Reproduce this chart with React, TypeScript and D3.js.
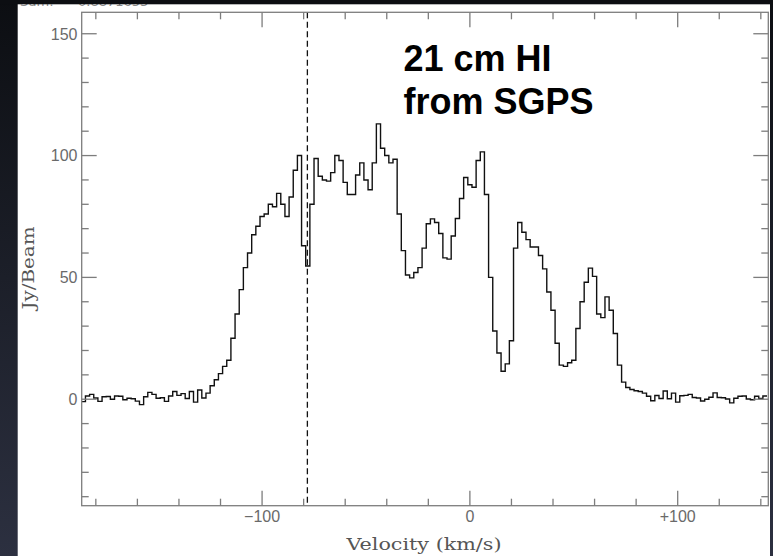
import React, { useEffect, useRef } from 'react';
import * as d3 from 'd3';

// HI spectrum, 2 km/s channels, first channel centred at -186 km/s
const V_START = -186;
const V_STEP = 2;
const fluxJy = [
  -1.0, 1.3, 2.0, 0.5, -0.9, 1.0, 1.1, 0.0, 1.3, 1.2,
  -0.2, 0.4, 0.2, -0.8, -2.2, 1.0, 2.8, 2.0, 0.4, 0.6,
  -0.9, 1.3, 3.2, 1.6, 2.3, 0.3, 3.2, -1.2, 3.8, 0.5,
  2.5, 5.5, 8.0, 10.5, 13.5, 16.0, 25.0, 35.0, 45.0, 54.0,
  60.0, 67.5, 71.0, 75.0, 76.0, 80.0, 79.0, 84.5, 80.0, 75.0,
  83.0, 94.0, 100.0, 63.0, 54.7, 80.0, 98.8, 91.5, 90.0, 89.5,
  93.0, 100.0, 98.0, 89.0, 84.0, 84.0, 92.0, 97.0, 90.0, 86.0,
  97.0, 113.0, 103.0, 100.0, 97.0, 98.5, 76.0, 61.0, 51.0, 49.8,
  52.0, 54.0, 62.0, 72.0, 74.0, 72.5, 68.0, 58.0, 57.5, 67.0,
  74.2, 82.4, 91.0, 88.0, 87.0, 98.0, 101.5, 84.0, 50.0, 28.0,
  19.0, 11.5, 14.5, 24.0, 62.0, 72.5, 68.5, 65.5, 62.5, 62.5,
  59.0, 53.5, 44.0, 36.5, 23.0, 14.0, 13.5, 15.0, 16.0, 29.0,
  40.0, 48.0, 53.8, 50.4, 35.0, 33.5, 42.0, 36.5, 27.0, 14.0,
  7.0, 4.8, 4.0, 3.5, 3.2, 2.5, 1.2, -0.6, 1.5, 0.3,
  3.4, 0.2, 2.5, -1.2, 1.4, 1.6, 2.0, 0.7, 0.5, -0.7,
  0.0, 0.8, 2.6, 0.7, 0.6, 0.1, -1.5, 0.4, 1.2, 1.3,
  0.1, -0.2, 1.2, 0.3, 1.3,
];

const xMajorTicks = [-100, 0, 100];
const xTickLabels = ['\u2212100', '0', '+100'];
const xMinorTicks = [-180, -160, -140, -120, -80, -60, -40, -20, 20, 40, 60, 80, 120, 140];
const yMajorTicks = [0, 50, 100, 150];
const yTickLabels = ['0', '50', '100', '150'];
const yMinorTicks = [-40, -30, -20, -10, 10, 20, 30, 40, 60, 70, 80, 90, 110, 120, 130, 140];
const markerVelocity = -78.2;
const titleLines = ['21 cm HI', 'from SGPS'];

const W = 773;
const H = 556;

export default function App() {
  const ref = useRef<SVGSVGElement>(null);

  useEffect(() => {
    const svg = d3.select(ref.current);
    svg.selectAll('*').remove();

    const left = 81.7, right = 768.3, top = 12.3, bottom = 505.7;
    const x = d3.scaleLinear().domain([-186.8, 143.6]).range([left, right]);
    const y = d3.scaleLinear().domain([-43.7, 158.8]).range([bottom, top]);

    // dark slide background + white panel
    const grad = svg.append('defs').append('linearGradient')
      .attr('id', 'bg').attr('x1', 0).attr('y1', 0).attr('x2', 0).attr('y2', 1);
    grad.append('stop').attr('offset', '0%').attr('stop-color', '#0c0e12');
    grad.append('stop').attr('offset', '100%').attr('stop-color', '#2c3040');
    svg.append('rect').attr('width', W).attr('height', H).attr('fill', 'url(#bg)');
    svg.append('rect').attr('x', 17.7).attr('y', 0).attr('width', 752.3).attr('height', H).attr('fill', '#fff');

    // header text, mostly cut off at the top (as in the source slide)
    const head = svg.append('g').attr('fill', '#888').style('font-family', 'DejaVu Sans').style('font-size', '13px');
    head.append('text').attr('x', 20).attr('y', 6).text('Sum:');
    head.append('text').attr('x', 78).attr('y', 6).text('0.8871653');
    svg.append('rect').attr('width', W).attr('height', 4.3).attr('fill', '#0c0e12');

    svg.append('clipPath').attr('id', 'plotclip')
      .append('rect').attr('x', left).attr('y', top).attr('width', right - left).attr('height', bottom - top);

    // spectrum as histogram steps
    const edges = fluxJy.map((f, i) => ({ v: V_START + i * V_STEP - V_STEP / 2, f }));
    edges.push({ v: V_START + (fluxJy.length - 1) * V_STEP + V_STEP / 2, f: fluxJy[fluxJy.length - 1] });
    const line = d3.line<{ v: number; f: number }>()
      .x(d => x(d.v))
      .y(d => y(d.f))
      .curve(d3.curveStepAfter);
    svg.append('path')
      .datum(edges)
      .attr('clip-path', 'url(#plotclip)')
      .attr('fill', 'none')
      .attr('stroke', '#111')
      .attr('stroke-width', 1.4)
      .attr('d', line);

    // dashed marker
    svg.append('line')
      .attr('x1', x(markerVelocity)).attr('x2', x(markerVelocity))
      .attr('y1', top).attr('y2', bottom)
      .attr('stroke', '#111').attr('stroke-width', 1.3)
      .attr('stroke-dasharray', '6 3.5');

    // frame and ticks on all four sides
    const axisCol = '#7d7d7d';
    const ax = svg.append('g').attr('stroke', axisCol).attr('stroke-width', 1.3);
    ax.append('rect').attr('x', left).attr('y', top).attr('width', right - left).attr('height', bottom - top).attr('fill', 'none');
    const xt = [...xMinorTicks.map(v => ({ v, len: 7 })), ...xMajorTicks.map(v => ({ v, len: 15 }))];
    const yt = [...yMinorTicks.map(v => ({ v, len: 7 })), ...yMajorTicks.map(v => ({ v, len: 15 }))];
    ax.selectAll('.xb').data(xt).enter().append('line')
      .attr('x1', d => x(d.v)).attr('x2', d => x(d.v)).attr('y1', bottom).attr('y2', d => bottom - d.len);
    ax.selectAll('.xt').data(xt).enter().append('line')
      .attr('x1', d => x(d.v)).attr('x2', d => x(d.v)).attr('y1', top).attr('y2', d => top + d.len);
    ax.selectAll('.yl').data(yt).enter().append('line')
      .attr('y1', d => y(d.v)).attr('y2', d => y(d.v)).attr('x1', left).attr('x2', d => left + d.len);
    ax.selectAll('.yr').data(yt).enter().append('line')
      .attr('y1', d => y(d.v)).attr('y2', d => y(d.v)).attr('x1', right).attr('x2', d => right - d.len);

    // tick labels
    const lab = svg.append('g').attr('fill', '#6a6a6a').style('font-family', 'Liberation Sans').style('font-size', '16px');
    lab.selectAll('.xl').data(xMajorTicks).enter().append('text')
      .attr('x', d => x(d)).attr('y', 522).attr('text-anchor', 'middle')
      .text((d, i) => xTickLabels[i]);
    lab.selectAll('.ylab').data(yMajorTicks).enter().append('text')
      .attr('x', 77.5).attr('y', d => y(d)).attr('dy', '0.36em').attr('text-anchor', 'end')
      .text((d, i) => yTickLabels[i]);

    // axis titles
    const ttl = svg.append('g').attr('fill', '#555').style('font-family', 'DejaVu Serif').style('font-size', '16px');
    ttl.append('text').attr('x', (left + right) / 2 - 1).attr('y', 550).attr('text-anchor', 'middle')
      .attr('textLength', 155).attr('lengthAdjust', 'spacingAndGlyphs').text('Velocity (km/s)');
    ttl.append('text').attr('transform', 'translate(33.5,268) rotate(-90)').attr('text-anchor', 'middle')
      .attr('textLength', 83).attr('lengthAdjust', 'spacingAndGlyphs').text('Jy/Beam');

    // annotation
    svg.append('g').style('font-family', 'Liberation Sans').style('font-size', '36px').style('font-weight', 'bold')
      .selectAll('text').data(titleLines).enter().append('text')
      .attr('x', 403.5).attr('y', (d, i) => 71 + i * 43).attr('fill', '#000')
      .text(d => d);
  }, []);

  return (
    <svg ref={ref} width={W} height={H} style={{ position: 'absolute', left: 0, top: 0, display: 'block' }} />
  );
}
